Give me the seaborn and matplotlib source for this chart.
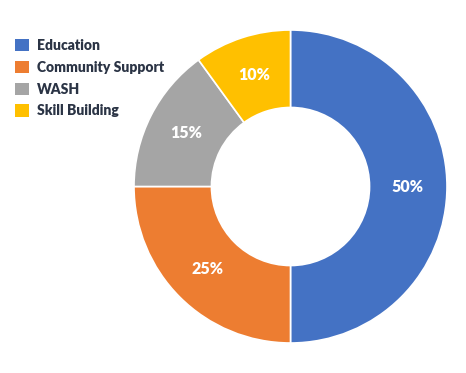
import matplotlib
matplotlib.use("Agg")
import matplotlib.pyplot as plt
import matplotlib.patches as mpatches
import seaborn as sns

sns.set_theme(style="white")
plt.rcParams["font.family"] = ["Lato", "DejaVu Sans"]

categories = ["Education", "Community Support", "WASH", "Skill Building"]
shares = [50, 25, 15, 10]
colors = ["#4472C4", "#ED7D31", "#A5A5A5", "#FFC000"]
text_color = "#2B3445"

fig = plt.figure(figsize=(4.66, 3.73), dpi=100)
fig.patch.set_facecolor("white")

# donut: center ~ (290, 187) px, outer radius ~156 px
ax = fig.add_axes([134 / 466, 30 / 373, 313 / 466, 313 / 373])
wedges, texts, autotexts = ax.pie(
    shares,
    colors=colors,
    startangle=90,
    counterclock=False,
    radius=1.0,
    autopct="%d%%",
    pctdistance=0.75,
    wedgeprops=dict(width=0.495, edgecolor="white", linewidth=1.2),
    textprops=dict(color="white", fontsize=11.5, fontweight="heavy"),
)
ax.set_xlim(-1, 1)
ax.set_ylim(-1, 1)
ax.set_aspect("equal")

handles = [mpatches.Patch(facecolor=c, edgecolor="none") for c in colors]
leg = fig.legend(
    handles,
    categories,
    loc="upper left",
    bbox_to_anchor=(15 / 466, 1 - 39 / 373),
    frameon=False,
    fontsize=10,
    handlelength=1.0,
    handleheight=1.0,
    handletextpad=0.6,
    labelspacing=0.63,
    borderpad=0,
    borderaxespad=0,
)
for t in leg.get_texts():
    t.set_color(text_color)
    t.set_fontweight("heavy")

fig.savefig("out.png", dpi=100, facecolor="white")
